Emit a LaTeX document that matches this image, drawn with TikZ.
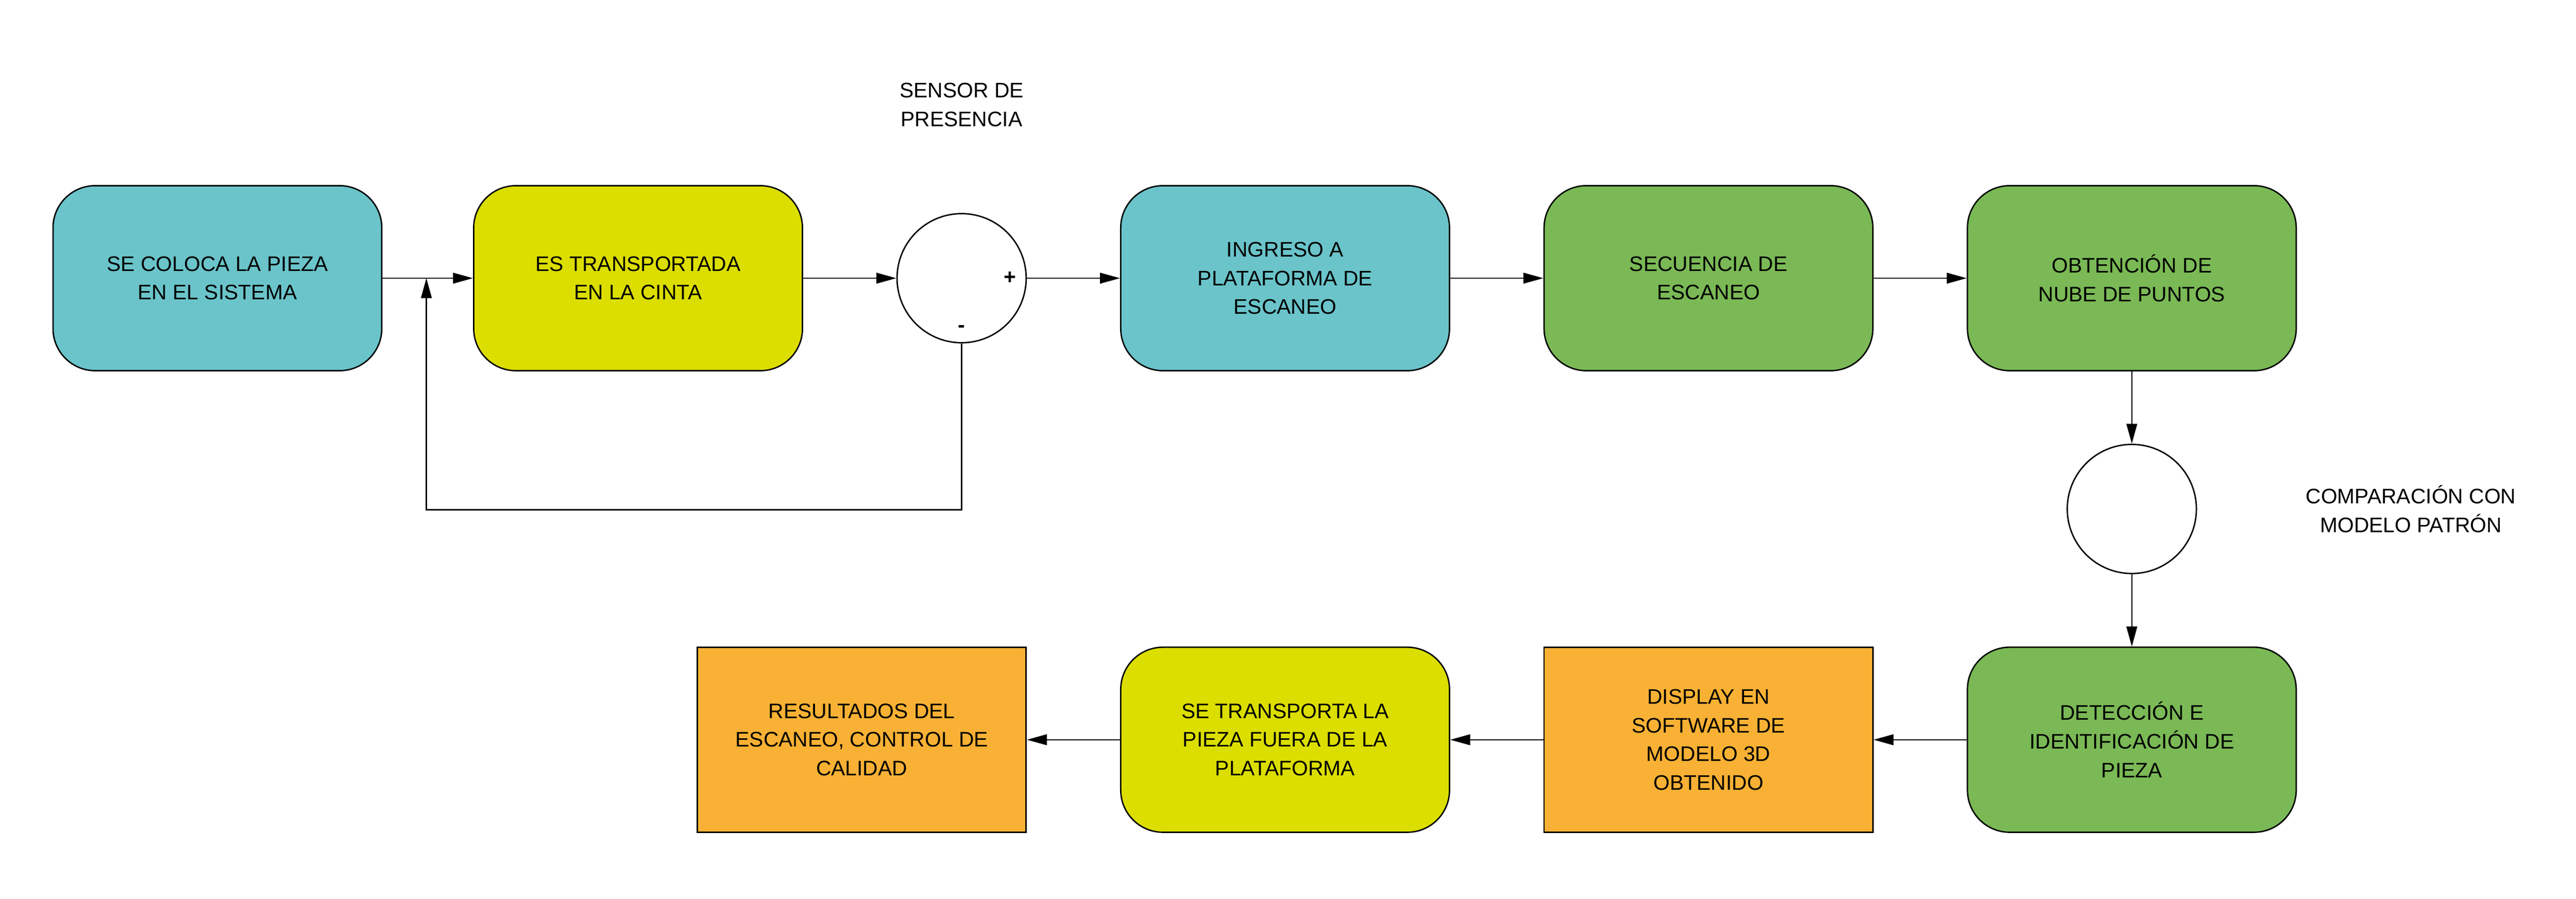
\documentclass[tikz,border=0pt]{standalone}
\usepackage{fontspec}
\setmainfont{Liberation Sans}
\usepackage{tikz}
\usetikzlibrary{positioning,arrows.meta}
\definecolor{cteal}{RGB}{106,196,202}
\definecolor{cyellow}{RGB}{220,222,0}
\definecolor{cgreen}{RGB}{122,185,85}
\definecolor{corange}{RGB}{248,177,52}
\begin{document}
\begin{tikzpicture}[font=\fontsize{13.5}{18.4}\selectfont, line width=0.9pt, >={Triangle[length=4.5mm,width=2.4mm]},
roundbox/.style={shape=rectangle, draw, rounded corners=0.95cm, minimum width=7.41cm, minimum height=4.17cm, align=center, inner sep=0pt},
flatbox/.style={shape=rectangle, draw, minimum width=7.41cm, minimum height=4.17cm, align=center, inner sep=0pt},
sumnode/.style={shape=circle, draw, fill=white, minimum size=2.91cm, inner sep=0pt},
lbl/.style={align=center, inner sep=0pt}]
\useasboundingbox (0,0) rectangle (58.06,-20.26);
\node[roundbox, fill=cteal] (b1) at (4.90,-6.27) {SE COLOCA LA PIEZA\\EN EL SISTEMA};
\node[roundbox, fill=cyellow, right=2.04cm of b1] (b2) {ES TRANSPORTADA\\EN LA CINTA};
\node[sumnode, right=2.1cm of b2] (s1) {};
\node[roundbox, fill=cteal, right=2.1cm of s1] (b3) {INGRESO A\\PLATAFORMA DE\\ESCANEO};
\node[roundbox, fill=cgreen, right=2.1cm of b3] (b4) {SECUENCIA DE\\ESCANEO};
\node[roundbox, fill=cgreen, right=2.1cm of b4] (b5) {OBTENCIÓN DE\\NUBE DE PUNTOS};
\node[sumnode, below=1.63cm of b5] (s2) {};
\node[roundbox, fill=cgreen, below=1.63cm of s2] (b6) {DETECCIÓN E\\IDENTIFICACIÓN DE\\PIEZA};
\node[flatbox, fill=corange, left=2.1cm of b6] (b7) {DISPLAY EN\\SOFTWARE DE\\MODELO 3D\\OBTENIDO};
\node[roundbox, fill=cyellow, left=2.1cm of b7] (b8) {SE TRANSPORTA LA\\PIEZA FUERA DE LA\\PLATAFORMA};
\node[flatbox, fill=corange, left=2.1cm of b8] (b9) {RESULTADOS DEL\\ESCANEO, CONTROL DE\\CALIDAD};
\node[lbl] (plus) at ([xshift=-0.38cm]s1.east) {\bfseries +};
\node[lbl] (minus) at ([yshift=0.33cm]s1.south) {\bfseries -};
\node[lbl] (sensor) at ([yshift=3.91cm]s1.center) {SENSOR DE\\PRESENCIA};
\node[lbl] (compara) at ([xshift=6.29cm]s2.center) {COMPARACIÓN CON\\MODELO PATRÓN};
\coordinate (fb) at (9.61,-11.49);
\draw[->] (b1) -- (b2);
\draw[->] (b2) -- (s1);
\draw[->] (s1) -- (b3);
\draw[->] (b3) -- (b4);
\draw[->] (b4) -- (b5);
\draw[->] (b5) -- (s2);
\draw[->] (s2) -- (b6);
\draw[->] (b6) -- (b7);
\draw[->] (b7) -- (b8);
\draw[->] (b8) -- (b9);
\draw[->] (s1.south) |- (fb) -- (fb |- b1.east);
\end{tikzpicture}
\end{document}
